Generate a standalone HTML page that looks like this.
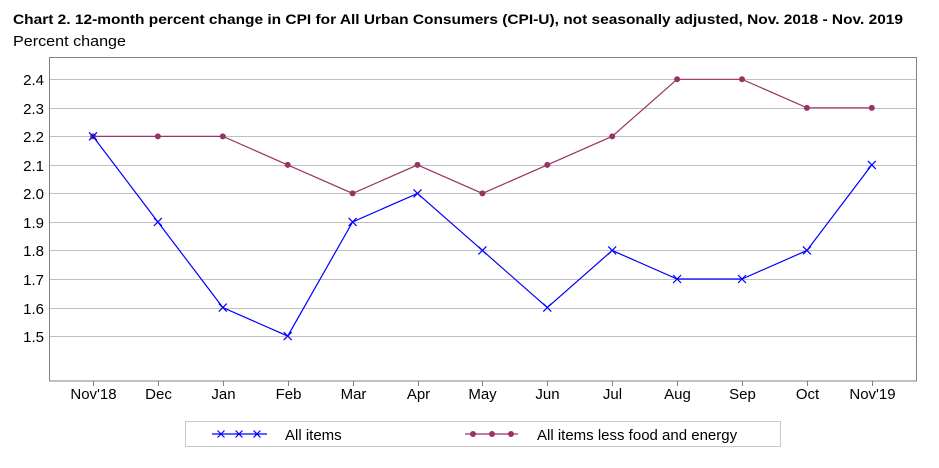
<!DOCTYPE html>
<html><head><meta charset="utf-8"><style>
body{margin:0;background:#fff;width:939px;height:463px;overflow:hidden;font-family:"Liberation Sans",sans-serif}
svg text{font-family:"Liberation Sans",sans-serif}
</style></head><body>
<svg width="939" height="463">
<text x="13" y="24" font-size="14" font-weight="bold" fill="#000" textLength="890" lengthAdjust="spacingAndGlyphs">Chart 2. 12-month percent change in CPI for All Urban Consumers (CPI-U), not seasonally adjusted, Nov. 2018 - Nov. 2019</text>
<text x="13" y="46" font-size="15" fill="#000" textLength="113" lengthAdjust="spacingAndGlyphs">Percent change</text>
<g id="grid"></g>
<rect x="49.5" y="57.5" width="867" height="323.5" fill="none" stroke="#808080"/>
<g id="marks"></g>
<rect x="185.5" y="421.5" width="595" height="25" fill="#fff" stroke="#c8c8c8"/>
<g>
<line x1="212" y1="434" x2="267" y2="434" stroke="#0000ff" stroke-width="1.2"/>
<path d="M217.5 430.5l7 7M224.5 430.5l-7 7M235.5 430.5l7 7M242.5 430.5l-7 7M253.5 430.5l7 7M260.5 430.5l-7 7" stroke="#0000ff" stroke-width="1.2"/>
<text x="285" y="440" font-size="15">All items</text></g>
<g>
<line x1="465" y1="434" x2="518" y2="434" stroke="#993366" stroke-width="1.2"/>
<circle cx="473" cy="434" r="3" fill="#993366"/><circle cx="492" cy="434" r="3" fill="#993366"/><circle cx="511" cy="434" r="3" fill="#993366"/>
<text x="537" y="440" font-size="15">All items less food and energy</text></g>
</svg>
<script>
const categories=["Nov'18","Dec","Jan","Feb","Mar","Apr","May","Jun","Jul","Aug","Sep","Oct","Nov'19"];
const allItems=[2.2,1.9,1.6,1.5,1.9,2.0,1.8,1.6,1.8,1.7,1.7,1.8,2.1];
const coreItems=[2.2,2.2,2.2,2.1,2.0,2.1,2.0,2.1,2.2,2.4,2.4,2.3,2.3];
const yTicks=[2.4,2.3,2.2,2.1,2.0,1.9,1.8,1.7,1.6,1.5];
const NS="http://www.w3.org/2000/svg";
const xs=i=>93+i*64.9;
const ys=v=>79.3+(2.4-v)*285.3;
function mk(t,a,p){const e=document.createElementNS(NS,t);for(const k in a)e.setAttribute(k,a[k]);p.appendChild(e);return e;}
const grid=document.getElementById('grid'),marks=document.getElementById('marks');
yTicks.forEach(v=>{const y=Math.round(ys(v))+0.5;
const l=mk('line',{x1:50,x2:916,y1:y,y2:y,stroke:'#c0c0c0'},grid);


const t=mk('text',{x:44,y:y+5.5,'font-size':15,'text-anchor':'end'},grid);t.textContent=v.toFixed(1);

});
categories.forEach((c,i)=>{const x=Math.round(xs(i))+0.5;
const tk=mk('line',{x1:x,x2:x,y1:381,y2:386,stroke:'#808080'},grid);


const t=mk('text',{x:x,y:399,'font-size':15,'text-anchor':'middle'},grid);t.textContent=c;

});
const cp=mk('polyline',{points:coreItems.map((v,i)=>xs(i)+','+ys(v)).join(' '),fill:'none',stroke:'#993366','stroke-width':1.2},marks);


coreItems.forEach((v,i)=>{const c=mk('circle',{cx:xs(i),cy:ys(v),r:3,fill:'#993366'},marks);

});
const ap=mk('polyline',{points:allItems.map((v,i)=>xs(i)+','+ys(v)).join(' '),fill:'none',stroke:'#0000ff','stroke-width':1.2},marks);


allItems.forEach((v,i)=>{const x=xs(i),y=ys(v);
const p=mk('path',{d:`M${x-4} ${y-4}L${x+4} ${y+4}M${x+4} ${y-4}L${x-4} ${y+4}`,stroke:'#0000ff','stroke-width':1.2},marks);

});
</script>
</body></html>
